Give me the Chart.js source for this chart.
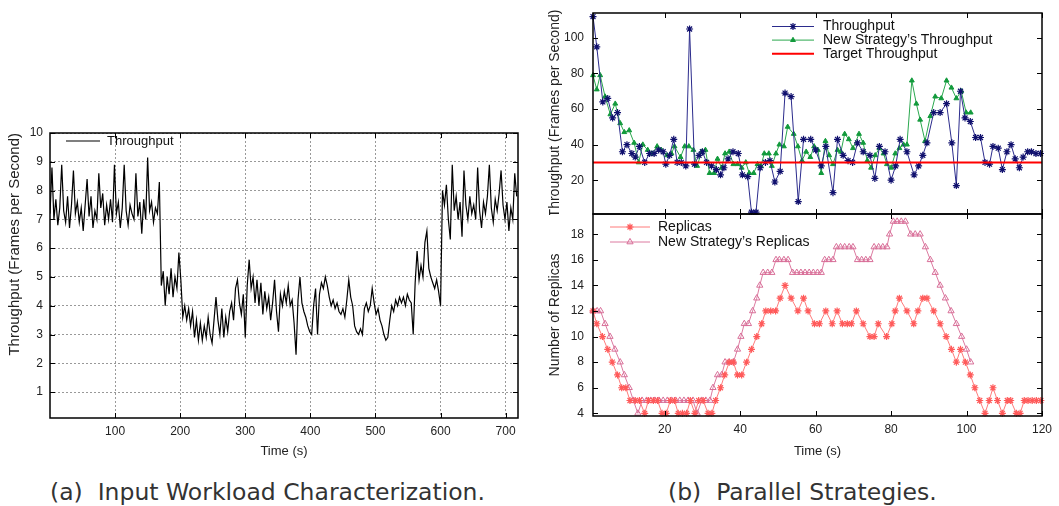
<!DOCTYPE html>
<html>
<head>
<meta charset="utf-8">
<script src="https://cdn.jsdelivr.net/npm/chart.js@4.4.0/dist/chart.umd.min.js"></script>
<style>
  body { margin: 0; background: #fff; width: 1059px; height: 506px; position: relative; overflow: hidden; }
  .box { position: absolute; }
  .cap { position: absolute; top: 477px; font-family: 'DejaVu Sans', sans-serif; font-size: 23.5px; line-height: 30px; color: #333; white-space: pre; }
</style>
</head>
<body>
<div class="box" style="left:0;top:120px;width:530px;height:343px"><canvas id="workload"></canvas></div>
<div class="box" style="left:540px;top:0;width:519px;height:215px"><canvas id="throughput"></canvas></div>
<div class="box" style="left:540px;top:213px;width:519px;height:250px"><canvas id="replicas"></canvas></div>
<div class="cap" style="left:50px">(a)  Input Workload Characterization.</div>
<div class="cap" style="left:668px">(b)  Parallel Strategies.</div>

<script>
// (a) input workload, one sample every 3 s from t = 0
const workloadStep = 3;
const workload = [
  7.2, 8.8, 7.0, 7.7, 6.8, 7.4, 8.9, 7.3, 6.9, 7.8,
  6.7, 7.5, 8.7, 7.2, 7.6, 6.9, 7.4, 6.6, 7.5, 8.4,
  7.1, 7.8, 6.7, 7.3, 7.0, 8.6, 7.4, 7.9, 6.8, 7.5,
  7.0, 7.7, 6.9, 8.9, 7.2, 7.6, 6.7, 7.4, 8.9, 7.3,
  6.8, 7.5, 7.2, 7.0, 8.6, 7.1, 7.6, 6.5, 7.7, 7.0,
  9.15, 7.3, 7.6, 6.9, 7.4, 7.2, 8.3, 4.7, 5.2, 4.0,
  5.0, 4.4, 5.3, 4.3, 5.0, 4.6, 5.85, 4.9, 3.6, 4.0,
  3.5, 3.9, 3.3, 3.8, 2.9, 3.5, 2.8, 3.4, 2.8, 3.3,
  2.9, 3.6, 3.0, 2.7, 3.5, 4.3, 3.5, 3.0, 3.9, 2.9,
  3.6, 3.1, 3.8, 4.1, 3.5, 4.6, 4.9, 4.1, 3.7, 4.4,
  2.9, 4.7, 5.6, 4.6, 5.0, 4.1, 4.9, 4.0, 4.8, 3.7,
  4.5, 3.9, 4.3, 3.5, 4.1, 4.9, 3.8, 3.1, 4.4, 4.0,
  4.5, 4.1, 4.7, 4.0, 4.2, 3.4, 2.3, 4.2, 5.0, 4.1,
  3.8, 3.6, 3.3, 3.1, 3.0, 4.0, 4.6, 3.0, 4.4, 4.8,
  4.6, 5.0, 4.7, 4.3, 4.0, 4.2, 3.9, 4.1, 3.8, 3.7,
  3.9, 3.6, 4.2, 4.9, 4.3, 4.0, 3.3, 3.1, 3.0, 3.2,
  3.0, 3.9, 4.1, 3.8, 4.0, 4.6, 4.1, 3.7, 3.9, 3.5,
  3.3, 3.0, 2.8, 2.9, 3.5, 4.0, 3.8, 4.2, 4.0, 4.3,
  4.1, 4.3, 4.0, 4.4, 4.2, 4.1, 3.0, 4.8, 5.9, 4.9,
  5.4, 5.0, 6.2, 6.6, 5.3, 5.0, 4.8, 4.6, 4.9, 4.5,
  4.0, 8.0, 7.5, 8.2, 7.0, 6.3, 8.9, 7.3, 7.8, 7.0,
  7.6, 6.4, 8.7, 7.5, 7.0, 7.8, 7.2, 7.5, 7.0, 8.8,
  7.3, 6.7, 7.6, 7.2, 7.8, 8.9, 7.4, 6.9, 7.7, 7.3,
  7.9, 8.7, 7.5, 7.0, 7.6, 6.6, 7.4, 7.0, 8.6, 7.8
];
const workloadXTicks = [100, 200, 300, 400, 500, 600, 700];
const workloadYTicks = [1, 2, 3, 4, 5, 6, 7, 8, 9, 10];

// (b) top: throughput
const tpTime = [
  1, 2, 3.6, 4.9, 6.2, 7.5, 8.8, 10, 11.3, 12.2,
  13.3, 14.7, 16, 17.2, 18.4, 19.6, 20.3, 21.3, 22.4, 23.3,
  24.4, 25.6, 26.6, 27.9, 29.1, 30, 31.1, 32.4, 33.7, 34.8,
  35.7, 36.8, 38.1, 39.5, 40.6, 42, 43, 44.2, 45.3, 46.7,
  47.9, 49.2, 50.6, 51.9, 53.5, 55.4, 56.8, 58.7, 60, 61.5,
  62.7, 64.6, 65.8, 67.3, 68.6, 69.8, 71.1, 72.6, 74.4, 75.7,
  76.9, 78.4, 80, 81.2, 82.4, 84.2, 86.1, 87.3, 88.4, 89.5,
  91.3, 93, 94.7, 96.1, 97.3, 98.4, 99.6, 101, 102.4, 103.7,
  104.9, 106.1, 107, 108.4, 109.5, 110.7, 111.8, 112.9, 114, 115,
  116.2, 117.2, 118.4, 119.6
];
const tpValue = [
  112, 95, 64, 66, 55, 58, 36, 40, 35, 33,
  39, 30, 35, 35, 37, 36, 29, 34, 43, 30,
  30, 28, 105, 29, 34, 36, 30, 28, 26, 23,
  27, 32, 36, 35, 23, 22, 2, 2, 27, 30,
  31, 19, 25, 69, 67, 8, 43, 43, 37, 28,
  39, 13, 43, 34, 31, 30, 41, 36, 34, 21,
  39, 36, 20, 28, 43, 36, 23, 28, 34, 41,
  58, 58, 63, 41, 17, 70, 55, 53, 44, 44,
  30, 29, 39, 38, 26, 36, 40, 32, 27, 33,
  36, 36, 35, 35
];
const nsTpTime = [
  1, 2, 2.9, 4.2, 5.6, 6.9, 8.2, 9.3, 10.6, 11.9,
  13.1, 14.2, 15.5, 16.6, 18, 19.1, 20.6, 21.8, 22.6, 24.2,
  25.3, 26.4, 27.6, 28.6, 29.8, 30.8, 31.9, 33.1, 34, 35.1,
  36, 37.1, 38.2, 39.3, 40.4, 41.5, 42.4, 43.6, 44.6, 45.5,
  46.4, 47.6, 48.4, 49.5, 50.4, 51.6, 52.6, 54.2, 55.3, 56.4,
  57.5, 58.6, 59.6, 60.6, 61.5, 62.6, 63.6, 64.6, 65.8, 66.7,
  67.7, 68.8, 69.9, 71.5, 72.6, 73.7, 74.7, 75.8, 76.9, 78,
  78.9, 80, 81.1, 82.2, 83.3, 84.2, 85.5, 86.7, 87.7, 89,
  90.4, 91.7, 93.3, 94.7, 96, 97.3, 98.6, 99.9, 101.1
];
const nsTpValue = [
  79, 71, 79, 67, 57, 63, 52, 47, 48, 41,
  30, 40, 37, 35, 39, 37, 34, 35, 39, 33,
  39, 39, 37, 28, 36, 37, 24, 24, 32, 27,
  35, 36, 29, 29, 27, 30, 24, 24, 29, 28,
  35, 35, 28, 35, 40, 39, 50, 46, 39, 31,
  36, 33, 39, 37, 24, 42, 34, 29, 37, 36,
  46, 43, 38, 46, 41, 31, 27, 34, 38, 35,
  29, 27, 35, 38, 40, 40, 76, 63, 54, 42,
  56, 67, 66, 76, 72, 66, 70, 58, 58
];
const targetThroughput = 30;
const timeRange = [1, 120];
const timeTicks = [20, 40, 60, 80, 100, 120];
const tpYTicks = [20, 40, 60, 80, 100];

// (b) bottom: replicas
const repTime = [
  1, 2, 3.5, 4.9, 6.1, 7.5, 8.6, 9.7, 10.8, 12.2,
  13.3, 14.7, 15.7, 17, 18.1, 19.3, 20.4, 21.5, 22.6, 23.6,
  24.7, 25.8, 26.8, 28, 29, 30.2, 31.5, 32.5, 33.5, 34.8,
  35.9, 37.1, 38.2, 39.3, 40.4, 41.7, 43, 44.4, 45.7, 46.8,
  48.1, 49.4, 50.6, 51.9, 53.5, 55.3, 56.8, 58, 59.7, 61,
  62.7, 64.4, 65.7, 67.1, 68.4, 69.5, 70.8, 72.6, 74.4, 75.5,
  76.6, 78.8, 80.2, 81.1, 82.2, 84.2, 86, 87.1, 88.4, 89.5,
  91.3, 93, 94.6, 96, 97.3, 98.4, 99.7, 101, 102.2, 103.5,
  104.9, 106, 107, 108.2, 109.5, 110.8, 111.7, 113.2, 114.2, 115.3,
  116.3, 117.4, 118.5, 119.7
];
const repValue = [
  12, 11, 10, 9, 8, 7, 6, 6, 5, 5,
  5, 4, 5, 5, 5, 4, 4, 5, 5, 4,
  4, 4, 5, 4, 5, 5, 4, 4, 5, 6,
  7, 8, 8, 7, 7, 8, 9, 10, 11, 12,
  12, 12, 13, 14, 13, 12, 13, 12, 11, 11,
  12, 11, 12, 11, 11, 11, 12, 11, 10, 10,
  11, 10, 11, 12, 13, 12, 11, 12, 13, 13,
  12, 11, 10, 9, 8, 9, 8, 7, 6, 5,
  4, 5, 6, 5, 4, 5, 5, 4, 4, 5,
  5, 5, 5, 5
];
const nsRepTime = [
  1, 2.1, 3, 4.2, 5.5, 6.8, 8.2, 9.3, 10.6, 11.7,
  12.9, 14, 15.2, 16.3, 17.4, 18.5, 19.6, 20.7, 21.8, 22.9,
  24, 25.1, 26.2, 27.5, 28.6, 29.8, 30.9, 32, 32.8, 34,
  35.1, 36, 37.1, 38.2, 39.3, 40.2, 41.1, 42.2, 43.3, 44.4,
  45.2, 46.1, 47.3, 48.4, 49.5, 50.4, 51.6, 52.7, 53.9, 55,
  56.1, 57.2, 58.3, 59.4, 60.5, 61.5, 62.4, 63.5, 64.6, 65.5,
  66.6, 67.7, 68.9, 69.9, 71.1, 72.2, 73.3, 74.4, 75.5, 76.7,
  77.8, 78.9, 79.6, 80.6, 81.6, 82.7, 83.8, 85.2, 86.4, 87.7,
  89.1, 90.4, 91.7, 93, 94.4, 95.9, 97.3, 98.7, 100, 101.1
];
const nsRepValue = [
  12, 12, 12, 11, 10, 9, 8, 7, 6, 5,
  4, 5, 5, 5, 5, 5, 5, 5, 5, 5,
  5, 5, 5, 5, 4, 5, 5, 5, 6, 7,
  7, 8, 8, 8, 9, 10, 11, 11, 12, 13,
  14, 15, 15, 15, 16, 16, 16, 16, 15, 15,
  15, 15, 15, 15, 15, 15, 16, 16, 16, 17,
  17, 17, 17, 17, 16, 16, 16, 16, 17, 17,
  17, 17, 18, 19, 19, 19, 19, 18, 18, 18,
  17, 16, 15, 14, 13, 12, 11, 10, 9, 8
];
const repYTicks = [4, 6, 8, 10, 12, 14, 16, 18];

Chart.defaults.font.family = "'Liberation Sans', Arial, sans-serif";
Chart.defaults.font.size = 12;
Chart.defaults.color = '#222';

function pts(xs, ys) {
  return xs.map((x, i) => ({ x: x, y: ys[i] }));
}

function fixTicks(values) {
  return function (scale) {
    scale.ticks = values.map(v => ({ value: v }));
  };
}

function fixSize(w, h) {
  return function (scale) {
    if (w !== null) scale.width = w;
    if (h !== null) scale.height = h;
    scale.paddingTop = 0;
    scale.paddingBottom = 0;
    scale.paddingLeft = 0;
    scale.paddingRight = 0;
  };
}

// black frame round the plot with small inward tick marks
const framePlugin = {
  id: 'frame',
  afterDatasetsDraw(chart, args, o) {
    const ctx = chart.ctx, a = chart.chartArea;
    const sx = chart.scales.x, sy = chart.scales.y;
    ctx.save();
    ctx.strokeStyle = '#000';
    ctx.lineWidth = 1;
    ctx.beginPath();
    o.xTicks.forEach(v => {
      const x = Math.round(sx.getPixelForValue(v)) + 0.5;
      ctx.moveTo(x, a.bottom); ctx.lineTo(x, a.bottom - o.len);
      ctx.moveTo(x, a.top); ctx.lineTo(x, a.top + o.len);
    });
    o.yTicks.forEach(v => {
      const y = Math.round(sy.getPixelForValue(v)) + 0.5;
      ctx.moveTo(a.left, y); ctx.lineTo(a.left + o.len, y);
      ctx.moveTo(a.right, y); ctx.lineTo(a.right - o.len, y);
    });
    ctx.stroke();
    ctx.lineWidth = o.width;
    ctx.strokeRect(a.left, a.top, a.right - a.left, a.bottom - a.top);
    ctx.restore();
  }
};

// gnuplot style key: sample line, marker, label
const keyPlugin = {
  id: 'key',
  afterDraw(chart, args, o) {
    const ctx = chart.ctx;
    ctx.save();
    ctx.font = o.font;
    ctx.textBaseline = 'middle';
    chart.data.datasets.forEach((ds, i) => {
      const y = o.top + i * o.gap;
      ctx.strokeStyle = ds.borderColor;
      ctx.lineWidth = ds.borderWidth;
      ctx.beginPath();
      ctx.moveTo(o.x1, y); ctx.lineTo(o.x2, y);
      ctx.stroke();
      if (ds.pointRadius > 0) {
        ctx.fillStyle = ds.pointBackgroundColor;
        ctx.strokeStyle = ds.pointBorderColor;
        ctx.lineWidth = ds.pointBorderWidth;
        Chart.helpers.drawPoint(ctx, {
          pointStyle: ds.pointStyle, radius: ds.pointRadius,
          rotation: 0, borderWidth: ds.pointBorderWidth
        }, (o.x1 + o.x2) / 2, y);
      }
      ctx.fillStyle = '#111';
      ctx.fillText(ds.label, o.textX, y);
    });
    ctx.restore();
  }
};

// (a)
new Chart(document.getElementById('workload'), {
  type: 'line',
  data: {
    datasets: [{
      label: 'Throughput',
      data: workload.map((v, i) => ({ x: i * workloadStep, y: v })),
      borderColor: '#000',
      borderWidth: 1.2,
      pointRadius: 0,
      tension: 0
    }]
  },
  options: {
    responsive: true,
    maintainAspectRatio: false,
    animation: false,
    events: [],
    layout: { autoPadding: false, padding: { left: 0, top: 13, right: 12, bottom: 0 } },
    plugins: {
      legend: { display: false },
      tooltip: { enabled: false },
      frame: { xTicks: workloadXTicks, yTicks: workloadYTicks, len: 5, width: 1.5 },
      key: { x1: 66, x2: 100, textX: 107, top: 21, gap: 14, font: "13px 'Liberation Sans', Arial, sans-serif" }
    },
    scales: {
      x: {
        type: 'linear', min: 0, max: 719,
        afterBuildTicks: fixTicks(workloadXTicks),
        afterFit: fixSize(null, 45),
        grid: { color: '#999', lineWidth: 1, drawTicks: false },
        border: { display: false, dash: [2, 2] },
        ticks: { padding: 6, autoSkip: false, maxRotation: 0 },
        title: { display: true, text: 'Time (s)', font: { size: 13 }, padding: { top: 0, bottom: 4 } }
      },
      y: {
        type: 'linear', min: 0.1, max: 10,
        afterBuildTicks: fixTicks(workloadYTicks),
        afterFit: fixSize(50, null),
        grid: { color: '#999', lineWidth: 1, drawTicks: false },
        border: { display: false, dash: [2, 2] },
        ticks: { padding: 7, autoSkip: false },
        title: { display: true, text: 'Throughput (Frames per Second)', align: 'end', font: { size: 15 }, padding: { top: 6, bottom: 0 } }
      }
    }
  },
  plugins: [framePlugin, keyPlugin]
});

// (b) top
new Chart(document.getElementById('throughput'), {
  type: 'line',
  data: {
    datasets: [{
      label: 'Throughput',
      data: pts(tpTime, tpValue),
      borderColor: '#2b2b8c',
      borderWidth: 1,
      pointStyle: 'star',
      pointRadius: 3.5,
      pointBorderColor: '#10106e',
      pointBackgroundColor: '#10106e',
      pointBorderWidth: 1.2,
      tension: 0,
      clip: 6,
      order: 1
    }, {
      label: 'New Strategy\u2019s Throughput',
      data: pts(nsTpTime, nsTpValue),
      borderColor: '#2aa84e',
      borderWidth: 1,
      pointStyle: 'triangle',
      pointRadius: 2.8,
      pointBorderColor: '#129a3c',
      pointBackgroundColor: '#129a3c',
      pointBorderWidth: 1,
      tension: 0,
      clip: 6,
      order: 2
    }, {
      label: 'Target Throughput',
      data: [{ x: timeRange[0], y: targetThroughput }, { x: timeRange[1], y: targetThroughput }],
      borderColor: '#ff0000',
      borderWidth: 2,
      pointRadius: 0,
      order: 0
    }]
  },
  options: {
    responsive: true,
    maintainAspectRatio: false,
    animation: false,
    events: [],
    layout: { autoPadding: false, padding: { left: 0, top: 13, right: 17, bottom: 1 } },
    plugins: {
      legend: { display: false },
      tooltip: { enabled: false },
      frame: { xTicks: timeTicks, yTicks: tpYTicks, len: 5, width: 1.5 },
      key: { x1: 232, x2: 274, textX: 283, top: 26.5, gap: 13.6, font: "14px 'Liberation Sans', Arial, sans-serif" }
    },
    scales: {
      x: {
        type: 'linear', min: timeRange[0], max: timeRange[1],
        afterBuildTicks: fixTicks(timeTicks),
        afterFit: fixSize(null, 0),
        grid: { display: false, drawTicks: false },
        border: { display: false },
        ticks: { display: false }
      },
      y: {
        type: 'linear', min: 1, max: 114,
        afterBuildTicks: fixTicks(tpYTicks),
        afterFit: fixSize(53, null),
        grid: { display: false, drawTicks: false },
        border: { display: false },
        ticks: { padding: 9, autoSkip: false },
        title: { display: true, text: 'Throughput (Frames per Second)', font: { size: 14 }, padding: { top: 7, bottom: 0 } }
      }
    }
  },
  plugins: [framePlugin, keyPlugin]
});

// (b) bottom
new Chart(document.getElementById('replicas'), {
  type: 'line',
  data: {
    datasets: [{
      label: 'Replicas',
      data: pts(repTime, repValue),
      borderColor: '#ff7b7b',
      borderWidth: 1,
      pointStyle: 'star',
      pointRadius: 3.5,
      pointBorderColor: '#ff5a5a',
      pointBackgroundColor: '#ff5a5a',
      pointBorderWidth: 1.2,
      tension: 0,
      clip: 6
    }, {
      label: 'New Strategy\u2019s Replicas',
      data: pts(nsRepTime, nsRepValue),
      borderColor: '#dc7aa0',
      borderWidth: 1,
      pointStyle: 'triangle',
      pointRadius: 3.6,
      pointBorderColor: '#d86e98',
      pointBackgroundColor: 'rgba(255,255,255,0)',
      pointBorderWidth: 1,
      tension: 0,
      clip: 6
    }]
  },
  options: {
    responsive: true,
    maintainAspectRatio: false,
    animation: false,
    events: [],
    layout: { autoPadding: false, padding: { left: 0, top: 1, right: 17, bottom: 0 } },
    plugins: {
      legend: { display: false },
      tooltip: { enabled: false },
      frame: { xTicks: timeTicks, yTicks: repYTicks, len: 5, width: 1.5 },
      key: { x1: 70, x2: 110, textX: 118, top: 14, gap: 15, font: "14px 'Liberation Sans', Arial, sans-serif" }
    },
    scales: {
      x: {
        type: 'linear', min: timeRange[0], max: timeRange[1],
        afterBuildTicks: fixTicks(timeTicks),
        afterFit: fixSize(null, 47),
        grid: { display: false, drawTicks: false },
        border: { display: false },
        ticks: { padding: 6, autoSkip: false, maxRotation: 0 },
        title: { display: true, text: 'Time (s)', font: { size: 13 }, padding: { top: 0, bottom: 4 } }
      },
      y: {
        type: 'linear', min: 3.79, max: 19.58,
        afterBuildTicks: fixTicks(repYTicks),
        afterFit: fixSize(53, null),
        grid: { display: false, drawTicks: false },
        border: { display: false },
        ticks: { padding: 9, autoSkip: false },
        title: { display: true, text: 'Number of Replicas', font: { size: 14 }, padding: { top: 7, bottom: 0 } }
      }
    }
  },
  plugins: [framePlugin, keyPlugin]
});
</script>
</body>
</html>
